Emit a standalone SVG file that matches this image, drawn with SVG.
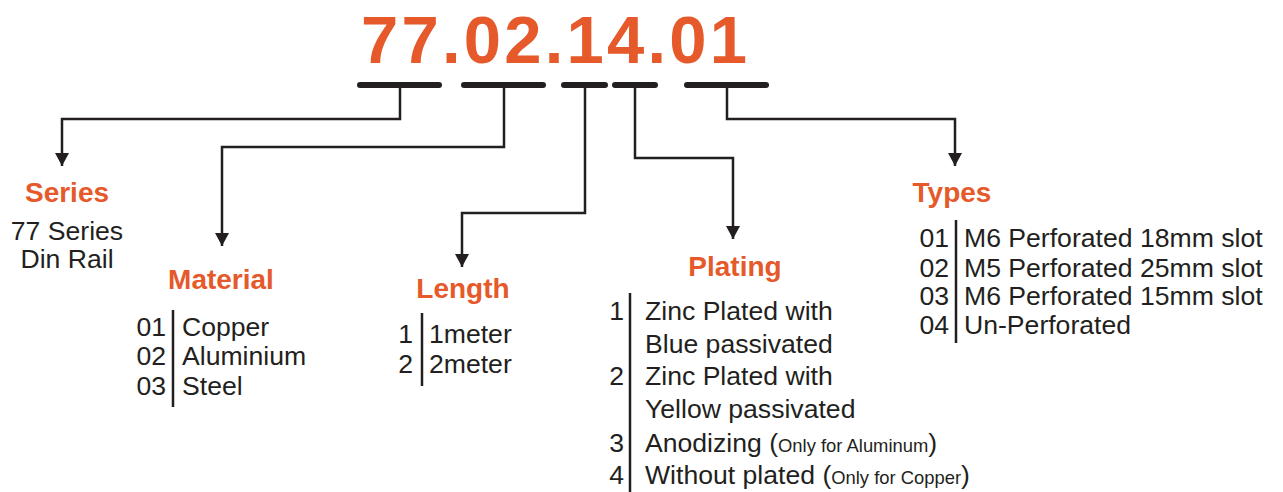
<svg xmlns="http://www.w3.org/2000/svg" width="1283" height="492" viewBox="0 0 1283 492">
<defs>
<style>
.t{font-family:"Liberation Sans",Arial,sans-serif;fill:#231F20;font-size:26.6px}
.h{font-family:"Liberation Sans",Arial,sans-serif;fill:#E5592A;font-size:28px;font-weight:bold;text-anchor:middle}
.r{text-anchor:end}
.s{font-size:18.4px}
.bar{stroke:#231F20;stroke-width:6;stroke-linecap:round}
.ln{fill:none;stroke:#231F20;stroke-width:2.5}
.sep{stroke:#231F20;stroke-width:2.5}
</style>
<marker id="ah" markerUnits="userSpaceOnUse" markerWidth="16" markerHeight="16" viewBox="0 0 16 16" refX="13" refY="8" orient="auto">
<path d="M0,1 L13,8 L0,15 Z" fill="#231F20"/>
</marker>
</defs>
<rect width="1283" height="492" fill="#fff"/>
<g id="code">
<text x="361" y="63" font-family="Liberation Sans,Arial,sans-serif" font-weight="bold" font-size="67" fill="#E5592A" textLength="386" lengthAdjust="spacing">77.02.14.01</text>
<line class="bar" x1="360" y1="85" x2="439" y2="85"/>
<line class="bar" x1="464" y1="85" x2="543" y2="85"/>
<line class="bar" x1="564" y1="85" x2="605" y2="85"/>
<line class="bar" x1="615" y1="85" x2="655" y2="85"/>
<line class="bar" x1="687" y1="85" x2="766" y2="85"/>
</g>
<g id="connectors">
<path class="ln" d="M400,85 V119 H62 V166" marker-end="url(#ah)"/>
<path class="ln" d="M504,85 V147 H222 V246" marker-end="url(#ah)"/>
<path class="ln" d="M585,85 V213 H462 V267" marker-end="url(#ah)"/>
<path class="ln" d="M635,85 V158 H733 V239" marker-end="url(#ah)"/>
<path class="ln" d="M727,85 V119 H955 V166" marker-end="url(#ah)"/>
</g>
<g id="series">
<text class="h" x="67" y="202">Series</text>
<text class="t" x="67" y="240" text-anchor="middle">77 Series</text>
<text class="t" x="67" y="268" text-anchor="middle">Din Rail</text>
</g>
<g id="material">
<text class="h" x="221" y="289">Material</text>
<line class="sep" x1="173" y1="310" x2="173" y2="407"/>
<text class="t r" x="166" y="336">01</text>
<text class="t r" x="166" y="365">02</text>
<text class="t r" x="166" y="395">03</text>
<text class="t" x="182" y="336">Copper</text>
<text class="t" x="182" y="365">Aluminium</text>
<text class="t" x="182" y="395">Steel</text>
</g>
<g id="length">
<text class="h" x="463" y="298">Length</text>
<line class="sep" x1="422" y1="313" x2="422" y2="386"/>
<text class="t r" x="413" y="343">1</text>
<text class="t r" x="413" y="373">2</text>
<text class="t" x="429" y="343">1meter</text>
<text class="t" x="429" y="373">2meter</text>
</g>
<g id="plating">
<text class="h" x="735" y="276">Plating</text>
<line class="sep" x1="630" y1="293" x2="630" y2="492"/>
<text class="t r" x="624" y="320">1</text>
<text class="t r" x="624" y="385">2</text>
<text class="t r" x="624" y="452">3</text>
<text class="t r" x="624" y="484">4</text>
<text class="t" x="645" y="320">Zinc Plated with</text>
<text class="t" x="645" y="353">Blue passivated</text>
<text class="t" x="645" y="385">Zinc Plated with</text>
<text class="t" x="645" y="418">Yellow passivated</text>
<text class="t" x="645" y="452">Anodizing (<tspan class="s">Only for Aluminum</tspan>)</text>
<text class="t" x="645" y="484">Without plated (<tspan class="s">Only for Copper</tspan>)</text>
</g>
<g id="types">
<text class="h" x="952" y="202">Types</text>
<line class="sep" x1="956" y1="220" x2="956" y2="343"/>
<text class="t r" x="949" y="247">01</text>
<text class="t r" x="949" y="277">02</text>
<text class="t r" x="949" y="305">03</text>
<text class="t r" x="949" y="334">04</text>
<text class="t" x="964" y="247">M6 Perforated 18mm slot</text>
<text class="t" x="964" y="277">M5 Perforated 25mm slot</text>
<text class="t" x="964" y="305">M6 Perforated 15mm slot</text>
<text class="t" x="964" y="334">Un-Perforated</text>
</g>
</svg>
